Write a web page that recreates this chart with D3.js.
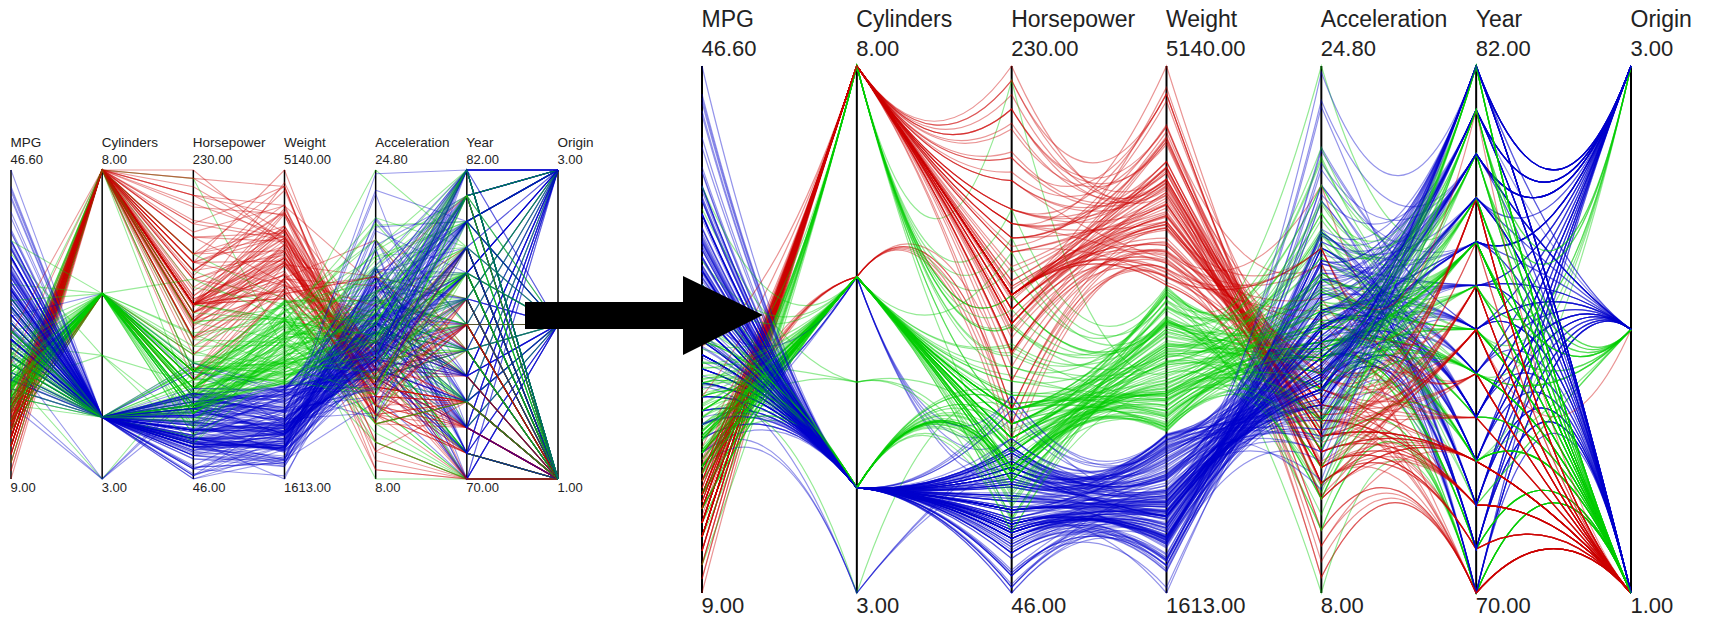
<!DOCTYPE html>
<html>
<head>
<meta charset="utf-8">
<script src="https://cdn.jsdelivr.net/npm/d3@7"></script>
<style>
  html, body { margin: 0; padding: 0; background: #fff; }
  svg { display: block; }
  text { font-family: "Liberation Sans", Arial, sans-serif; fill: #222; }
</style>
</head>
<body>
<div id="chart"></div>
<script>
const axisNames = ['MPG', 'Cylinders', 'Horsepower', 'Weight', 'Acceleration', 'Year', 'Origin'];
const axisTop = [46.6, 8, 230, 5140, 24.8, 82, 3];
const axisBottom = [9, 3, 46, 1613, 8, 70, 1];
const weightBreaks = [2684, 3665];
const clusterColors = ['#0000cc', '#00cc00', '#cc0000'];
const blueBundleYear = 78.2;

// one list per model year: mpg, cylinders, horsepower, weight, acceleration, origin
const cars70 = [[18,8,130,3504,12,1],[15,8,165,3693,11.5,1],[18,8,150,3436,11,1],[16,8,150,3433,12,1],[17,8,140,3449,10.5,1],[15,8,198,4341,10,1],[14,8,220,4354,9,1],[14,8,215,4312,8.5,1],[14,8,225,4425,10,1],[15,8,190,3850,8.5,1],[15,8,170,3563,10,1],[14,8,160,3609,8,1],[15,8,150,3761,9.5,1],[14,8,225,3086,10,1],[24,4,95,2372,15,3],[22,6,95,2833,15.5,1],[18,6,97,2774,15.5,1],[21,6,85,2587,16,1],[27,4,88,2130,14.5,3],[26,4,46,1835,20.5,2],[25,4,87,2672,17.5,2],[24,4,90,2430,14.5,2],[25,4,95,2375,17.5,2],[26,4,113,2234,12.5,2],[21,6,90,2648,15,1],[10,8,215,4615,14,1],[10,8,200,4376,15,1],[11,8,210,4382,13.5,1],[9,8,193,4732,18.5,1]];
const cars71 = [[27,4,88,2130,14.5,3],[28,4,90,2264,15.5,1],[25,4,95,2228,14,3],[19,6,100,2634,13,1],[16,6,105,3439,15.5,1],[17,6,100,3329,15.5,1],[19,6,88,3302,15.5,1],[18,6,100,3288,15.5,1],[14,8,165,4209,12,1],[14,8,175,4464,11.5,1],[14,8,153,4154,13.5,1],[14,8,150,4096,13,1],[12,8,180,4955,11.5,1],[13,8,170,4746,12,1],[13,8,175,5140,12,1],[18,6,110,2962,13.5,1],[22,4,72,2408,19,1],[19,6,100,3282,15,1],[18,6,88,3139,14.5,1],[23,4,86,2220,14,1],[28,4,90,2123,14,2],[30,4,70,2074,19.5,2],[30,4,76,2065,14.5,2],[31,4,65,1773,19,3],[35,4,69,1613,18,3],[27,4,60,1834,19,2],[26,4,70,1955,20.5,1]];
const cars72 = [[24,4,95,2278,15.5,3],[25,4,80,2126,17,1],[23,4,54,2254,23.5,2],[20,4,90,2408,19.5,1],[21,4,86,2226,16.5,1],[13,8,165,4274,12,1],[14,8,175,4385,12,1],[15,8,150,4135,13.5,1],[14,8,153,4129,13,1],[17,8,150,3672,11.5,1],[11,8,208,4633,11,1],[13,8,155,4502,13.5,1],[12,8,160,4456,13.5,1],[13,8,190,4422,12.5,1],[19,3,97,2330,13.5,3],[15,8,150,3892,12.5,1],[13,8,130,4098,14,1],[13,8,140,4294,16,1],[14,8,150,4077,14,1],[18,4,112,2933,14.5,2],[22,4,76,2511,18,2],[21,4,87,2979,19.5,2],[26,4,69,2189,18,2],[22,4,86,2395,16,1],[28,4,92,2288,17,3],[23,4,97,2506,14.5,3],[28,4,80,2164,15,1],[27,4,88,2100,16.5,3]];
const cars73 = [[13,8,175,4100,13,1],[14,8,150,3672,11.5,1],[13,8,145,3988,13,1],[14,8,137,4042,14.5,1],[15,8,150,3777,12.5,1],[12,8,198,4952,11.5,1],[13,8,150,4464,12,1],[13,8,158,4363,13,1],[14,8,150,4237,14.5,1],[13,8,215,4735,11,1],[12,8,225,4951,11,1],[13,8,175,3821,11,1],[18,6,105,3121,16.5,1],[16,6,100,3278,18,1],[18,6,100,2945,16,1],[18,6,88,3021,16.5,1],[23,6,95,2904,16,1],[26,4,46,1950,21,2],[11,8,150,4997,14,1],[12,8,167,4906,12.5,1],[13,8,170,4654,13,1],[12,8,180,4499,12.5,1],[18,6,100,2789,15,1],[20,4,88,2279,19,3],[21,4,72,2401,19.5,1],[22,4,94,2379,16.5,3],[18,3,90,2124,13.5,3],[19,4,85,2310,18.5,1],[21,6,107,2472,14,1],[26,4,90,2265,15.5,2],[15,8,145,4082,13,1],[16,8,230,4278,9.5,1],[29,4,49,1867,19.5,2],[24,4,75,2158,15.5,2],[20,4,91,2582,14,2],[19,4,112,2868,15.5,2],[15,8,150,3399,11,1],[24,4,110,2660,14,2],[20,6,122,2807,13.5,3],[11,8,180,3664,11,1]];
const cars74 = [[20,6,95,3102,16.5,1],[19,6,100,2901,16,1],[15,6,100,3336,17,1],[31,4,67,1950,19,3],[26,4,80,2451,16.5,1],[32,4,65,1836,21,3],[25,4,75,2542,17,1],[16,6,100,3781,17,1],[16,6,110,3632,18,1],[18,6,105,3613,16.5,1],[16,8,140,4141,14,1],[13,8,150,4699,14.5,1],[14,8,150,4457,13.5,1],[14,8,140,4638,16,1],[14,8,150,4257,15.5,1],[29,4,83,2219,16.5,2],[26,4,67,1963,15.5,2],[26,4,78,2300,14.5,2],[31,4,52,1649,16.5,3],[32,4,61,2003,19,3],[28,4,75,2125,14.5,1],[24,4,75,2108,15.5,2],[26,4,75,2246,14,2],[24,4,97,2489,15,3],[26,4,93,2391,15.5,3],[31,4,67,2000,16,2]];
const cars75 = [[19,6,95,3264,16,1],[18,6,105,3459,16,1],[15,6,72,3432,21,1],[15,6,72,3158,19.5,1],[16,8,170,4668,11.5,1],[15,8,145,4440,14,1],[16,8,150,4498,14.5,1],[14,8,148,4657,13.5,1],[17,6,110,3907,21,1],[16,6,105,3897,18.5,1],[15,6,110,3730,19,1],[18,6,95,3785,19,1],[21,6,110,3039,15,1],[20,8,110,3221,13.5,1],[13,8,129,3169,12,1],[29,4,75,2171,16,3],[23,4,83,2639,17,1],[20,6,100,2914,16,1],[23,4,78,2592,18.5,1],[24,4,96,2702,13.5,3],[25,4,71,2223,16.5,2],[24,4,97,2545,17,3],[18,6,97,2984,14.5,1],[29,4,70,1937,14,2],[19,6,90,3211,17,1],[23,4,95,2694,15,2],[23,4,88,2957,17,2],[22,4,98,2945,14.5,2],[25,4,115,2671,13.5,2],[33,4,53,1795,17.5,3]];
const cars76 = [[28,4,86,2464,15.5,2],[25,4,81,2220,16.9,2],[25,4,92,2572,14.9,1],[26,4,79,2255,17.7,1],[27,4,83,2202,15.3,2],[17.5,8,140,4215,13,1],[16,8,150,4190,13,1],[15.5,8,120,3962,13.9,1],[14.5,8,152,4215,12.8,1],[22,6,100,3233,15.4,1],[22,6,105,3353,14.5,1],[24,6,81,3012,17.6,1],[22.5,6,90,3085,17.6,1],[29,4,52,2035,22.2,1],[24.5,4,60,2164,22.1,1],[29,4,70,1937,14.2,2],[33,4,53,1795,17.4,3],[20,6,100,3651,17.7,1],[18,6,78,3574,21,1],[18.5,6,110,3645,16.2,1],[17.5,6,95,3193,17.8,1],[29.5,4,71,1825,12.2,2],[32,4,70,1990,17,3],[28,4,75,2155,16.4,3],[26.5,4,72,2565,13.6,1],[20,4,102,3150,15.7,2],[13,8,150,3940,13.2,1],[19,4,88,3270,21.9,2],[19,6,108,2930,15.5,3],[16.5,6,120,3820,16.7,2],[16.5,8,180,4380,12.1,1],[13,8,145,4055,12,1],[13,8,130,3870,15,1],[13,8,150,3755,14,1]];
const cars77 = [[31.5,4,68,2045,18.5,3],[30,4,80,2155,14.8,1],[36,4,58,1825,18.6,2],[25.5,4,96,2300,15.5,1],[33.5,4,70,1945,16.8,3],[17.5,8,145,3880,12.5,1],[17,8,110,4060,19,1],[15.5,8,145,4140,13.7,1],[15,8,130,4295,14.9,1],[17.5,6,110,3520,16.4,1],[20.5,6,105,3425,16.9,1],[19,6,100,3630,17.7,1],[18.5,6,98,3525,19,1],[16,8,180,4220,11.1,1],[15.5,8,170,4165,11.4,1],[15.5,8,190,4325,12.2,1],[16,8,149,4335,14.5,1],[29,4,78,1940,14.5,2],[24.5,4,88,2740,16,1],[26,4,75,2265,18.2,3],[25.5,4,89,2755,15.8,1],[30.5,4,63,2051,17,1],[33.5,4,83,2075,15.9,1],[30,4,67,1985,16.4,3],[30.5,4,78,2190,14.1,2],[22,6,97,2815,14.5,3],[21.5,4,110,2600,12.8,2],[21.5,3,110,2720,13.5,3]];
const cars78 = [[43.1,4,48,1985,21.5,2],[36.1,4,66,1800,14.4,1],[32.8,4,52,1985,19.4,3],[39.4,4,70,2070,18.6,3],[36.1,4,60,1800,16.4,3],[19.9,8,110,3365,15.5,1],[19.4,8,140,3735,13.2,1],[20.2,8,139,3570,12.8,1],[19.2,6,105,3535,19.2,1],[20.5,6,95,3155,18.2,1],[20.2,6,85,2965,15.8,1],[25.1,4,88,2720,15.4,1],[20.5,6,100,3430,17.2,1],[19.4,6,90,3210,17.2,1],[20.6,6,105,3380,15.8,1],[20.8,6,85,3070,16.7,1],[18.6,6,110,3620,18.7,1],[18.1,6,120,3410,15.1,1],[19.2,8,145,3425,13.2,1],[17.7,6,165,3445,13.4,1],[18.1,8,139,3205,11.2,1],[17.5,8,140,4080,13.7,1],[30,4,68,2155,16.5,1],[27.5,4,95,2560,14.2,3],[27.2,4,97,2300,14.7,3],[30.9,4,75,2230,14.5,1],[21.1,4,95,2515,14.8,3],[23.2,4,105,2745,16.7,1],[23.8,4,85,2855,17.6,1],[23.9,4,97,2405,14.9,3],[20.3,5,103,2830,15.9,2],[17,6,125,3140,13.6,2],[21.6,4,115,2795,15.7,2],[16.2,6,133,3410,15.8,2],[31.5,4,71,1990,14.9,2],[29.5,4,68,2135,16.6,3]];
const cars79 = [[21.5,6,115,3245,15.4,1],[19.8,6,85,2990,18.2,1],[22.3,4,88,2890,17.3,1],[20.2,6,90,3265,18.2,1],[20.6,6,110,3360,16.6,1],[17,8,130,3840,15.4,1],[17.6,8,129,3725,13.4,1],[16.5,8,138,3955,13.2,1],[18.2,8,135,3830,15.2,1],[16.9,8,155,4360,14.9,1],[15.5,8,142,4054,14.3,1],[19.2,8,125,3605,15,1],[18.5,8,150,3940,13,1],[31.9,4,71,1925,14,2],[34.1,4,65,1975,15.2,3],[35.7,4,80,1915,14.4,1],[27.4,4,80,2670,15,1],[25.4,5,77,3530,20.1,2],[23,8,125,3900,17.4,1],[27.2,4,71,3190,24.8,2],[23.9,8,90,3420,22.2,1],[34.2,4,70,2200,13.2,1],[34.5,4,70,2150,14.9,1],[31.8,4,65,2020,19.2,3],[37.3,4,69,2130,14.7,2],[28.4,4,90,2670,16,1],[28.8,6,115,2595,11.3,1],[26.8,6,115,2700,12.9,1],[33.5,4,90,2556,13.2,1]];
const cars80 = [[41.5,4,76,2144,14.7,2],[38.1,4,60,1968,18.8,3],[32.1,4,70,2120,15.5,1],[37.2,4,65,2019,16.4,3],[28,4,90,2678,16.5,1],[26.4,4,88,2870,18.1,1],[24.3,4,90,3003,20.1,1],[19.1,6,90,3381,18.7,1],[34.3,4,78,2188,15.8,2],[29.8,4,90,2711,15.5,3],[31.3,4,75,2542,17.5,3],[37,4,92,2434,15,3],[32.2,4,75,2265,15.2,3],[46.6,4,65,2110,17.9,3],[27.9,4,105,2800,14.4,1],[40.8,4,65,2110,19.2,3],[44.3,4,48,2085,21.7,2],[43.4,4,48,2335,23.7,2],[36.4,5,67,2950,19.9,2],[30,4,67,3250,21.8,2],[44.6,4,67,1850,13.8,3],[33.8,4,67,2145,18,3],[29.8,4,62,1845,15.3,2],[32.7,6,132,2910,11.4,3],[23.7,3,100,2420,12.5,3],[35,4,88,2500,15.1,2],[32.4,4,72,2290,17,3]];
const cars81 = [[27.2,4,84,2490,15.7,1],[26.6,4,84,2635,16.4,1],[25.8,4,92,2620,14.4,1],[23.5,6,110,2725,12.6,1],[30,4,84,2385,12.9,1],[39.1,4,58,1755,16.9,3],[39,4,64,1875,16.4,1],[35.1,4,60,1760,16.1,3],[32.3,4,67,2065,17.8,3],[37,4,65,1975,19.4,3],[37.7,4,62,2050,17.3,3],[34.1,4,68,1985,16,3],[34.7,4,63,2215,14.9,1],[34.4,4,65,2045,16.2,1],[29.9,4,65,2380,20.7,1],[33,4,74,2190,14.2,2],[33.7,4,75,2210,14.4,3],[32.4,4,75,2350,16.8,3],[32.9,4,100,2615,14.8,3],[31.6,4,74,2635,18.3,3],[28.1,4,80,3230,20.4,2],[30.7,6,76,3160,19.6,2],[25.4,6,116,2900,12.6,3],[24.2,6,120,2930,13.8,3],[22.4,6,110,3415,15.8,1],[26.6,8,105,3725,19,1],[20.2,6,88,3060,17.1,1],[17.6,6,85,3465,16.6,1]];
const cars82 = [[28,4,88,2605,19.6,1],[27,4,88,2640,18.6,1],[34,4,88,2395,18,1],[31,4,85,2575,16.2,1],[29,4,84,2525,16,1],[27,4,90,2735,18,1],[24,4,92,2865,16.4,1],[23,4,85,3035,20.5,1],[36,4,74,1980,15.3,2],[37,4,68,2025,18.2,3],[31,4,68,1970,17.6,3],[38,4,63,2125,14.7,1],[36,4,70,2125,17.3,1],[36,4,88,2160,14.5,3],[36,4,75,2205,14.5,3],[34,4,70,2245,16.9,3],[38,4,67,1965,15,3],[32,4,67,1965,15.7,3],[38,4,67,1995,16.2,3],[25,6,110,2945,16.4,1],[38,6,85,3015,17,1],[26,4,92,2585,14.5,1],[22,6,112,2835,14.7,1],[32,4,96,2665,13.9,3],[36,4,84,2370,13,1],[27,4,90,2950,17.3,1],[27,4,86,2790,15.6,1],[44,4,52,2130,24.6,2],[32,4,84,2295,11.6,1],[28,4,79,2625,18.6,1],[31,4,82,2720,19.4,1]];

const modelYears = [70, 71, 72, 73, 74, 75, 76, 77, 78, 79, 80, 81, 82];
const carsByYear = [cars70, cars71, cars72, cars73, cars74, cars75, cars76, cars77, cars78, cars79, cars80, cars81, cars82];

// rows in axis order, year put back in
const rows = carsByYear.flatMap((list, i) => list.map(c => [c[0], c[1], c[2], c[3], c[4], modelYears[i], c[5]]));
const cluster = d3.scaleThreshold().domain(weightBreaks).range(clusterColors);

const svg = d3.select('#chart').append('svg').attr('width', 1710).attr('height', 618);

function panelScales(xRange, yRange) {
  const x = d3.scalePoint().domain(axisNames).range(xRange);
  const y = axisNames.map((n, i) => d3.scaleLinear().domain([axisBottom[i], axisTop[i]]).range(yRange));
  return { x, y };
}

function drawAxes(g, s, o) {
  const [y0, y1] = s.y[0].range();
  g.selectAll('line.axis').data(axisNames).join('line')
    .attr('class', 'axis')
    .attr('x1', d => s.x(d)).attr('x2', d => s.x(d))
    .attr('y1', y0).attr('y2', y1)
    .attr('stroke', '#000').attr('stroke-width', o.axisWidth);
}

function drawLabels(g, s, o) {
  const [y0, y1] = s.y[0].range();
  const label = (cls, texts, yy, size) => g.selectAll('text.' + cls).data(texts).join('text')
    .attr('class', cls)
    .attr('x', (d, i) => s.x(axisNames[i]) - 0.5)
    .attr('y', yy)
    .attr('font-size', size)
    .text(d => d);
  label('name', axisNames, y1 + o.nameDy, o.nameSize);
  label('top', axisTop.map(d => d.toFixed(2)), y1 + o.topDy, o.fontSize);
  label('bottom', axisBottom.map(d => d.toFixed(2)), y0 + o.bottomDy, o.fontSize);
}

// left panel: plain straight polylines
const left = panelScales([11, 558], [479, 170]);
const gl = svg.append('g');
drawAxes(gl, left, { axisWidth: 1.5 });
const straight = d3.line().x((d, i) => left.x(axisNames[i])).y((d, i) => left.y[i](d));
gl.selectAll('path.car').data(rows).join('path')
  .attr('class', 'car')
  .attr('d', straight)
  .attr('fill', 'none')
  .attr('stroke', d => cluster(d[3]))
  .attr('stroke-opacity', 0.4)
  .attr('stroke-width', 1.1);
drawLabels(gl, left, { fontSize: 13, nameSize: 13.5, nameDy: -23, topDy: -6, bottomDy: 13 });

// right panel: each span is a quadratic bent towards its cluster's centre between the two axes
const right = panelScales([702, 1631], [593, 66]);
const gr = svg.append('g');
drawAxes(gr, right, { axisWidth: 2 });

const groups = d3.group(rows, d => cluster(d[3]));
const control = new Map();
groups.forEach((list, color) => {
  const centre = axisNames.map((n, i) => d3.mean(list, d => right.y[i](d[i])));
  if (color === clusterColors[0]) centre[5] = right.y[5](blueBundleYear);
  control.set(color, d3.pairs(centre, (a, b) => (a + b) / 2));
});

function curved(d) {
  const p = d3.path();
  const ctrl = control.get(cluster(d[3]));
  d.forEach((v, i) => {
    const x = right.x(axisNames[i]), y = right.y[i](v);
    if (i === 0) p.moveTo(x, y);
    else p.quadraticCurveTo((x + right.x(axisNames[i - 1])) / 2, ctrl[i - 1], x, y);
  });
  return p.toString();
}

gr.selectAll('path.car').data(rows).join('path')
  .attr('class', 'car')
  .attr('d', curved)
  .attr('fill', 'none')
  .attr('stroke', d => cluster(d[3]))
  .attr('stroke-opacity', 0.42)
  .attr('stroke-width', 1.2);
drawLabels(gr, right, { fontSize: 22, nameSize: 23, nameDy: -39, topDy: -10, bottomDy: 20 });

// the big arrow between the panels
svg.append('path')
  .attr('d', 'M525,302H683V276L763,315L683,355V329H525Z')
  .attr('fill', '#000');
</script>
</body>
</html>
